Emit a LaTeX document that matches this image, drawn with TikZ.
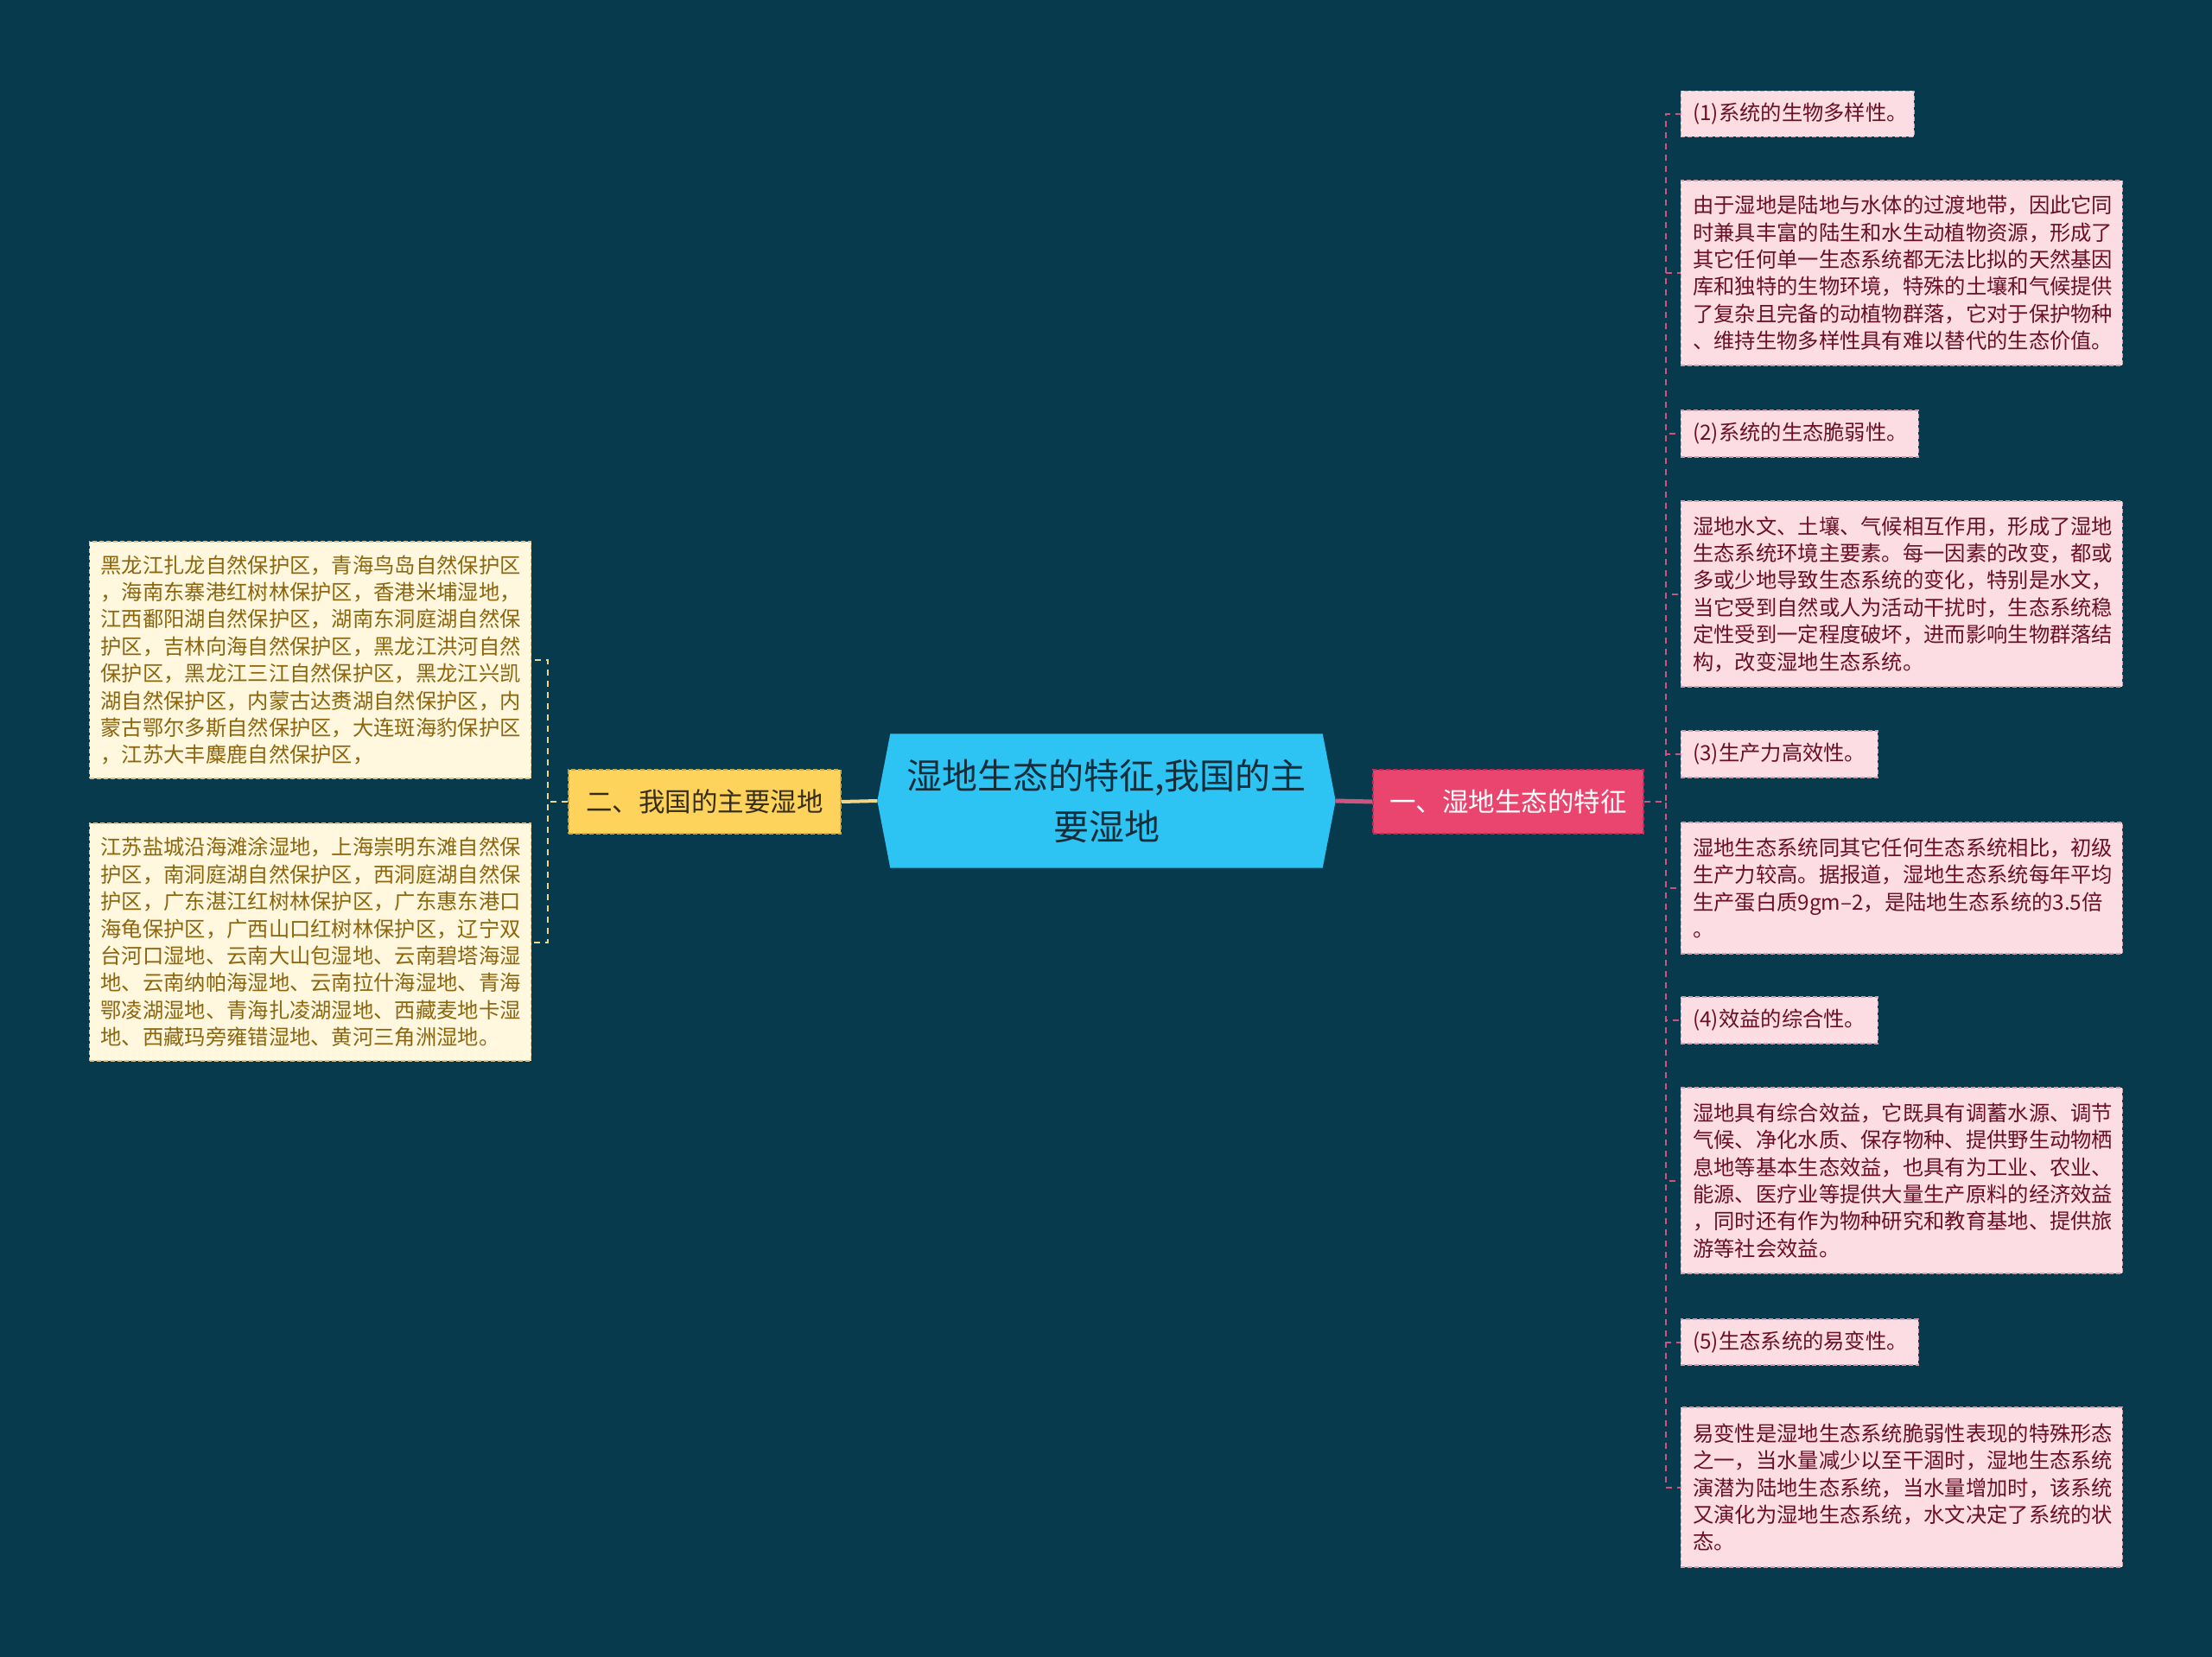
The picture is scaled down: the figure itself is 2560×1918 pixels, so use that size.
\documentclass[tikz,border=0pt]{standalone}
\usepackage{fontspec}
\setmainfont{Noto Sans CJK SC}
\usetikzlibrary{backgrounds}
\definecolor{bgc}{RGB}{8,58,78}
\definecolor{hexc}{RGB}{45,195,243}
\definecolor{hext}{RGB}{22,45,58}
\definecolor{pinkn}{RGB}{233,69,111}
\definecolor{pinkb}{RGB}{190,45,85}
\definecolor{yelln}{RGB}{253,211,92}
\definecolor{yellb}{RGB}{215,165,50}
\definecolor{yellt}{RGB}{55,45,25}
\definecolor{rfill}{RGB}{253,221,228}
\definecolor{rdraw}{RGB}{205,160,172}
\definecolor{rtext}{RGB}{105,15,38}
\definecolor{lfill}{RGB}{255,248,222}
\definecolor{ldraw}{RGB}{215,195,145}
\definecolor{ltext}{RGB}{140,102,15}
\definecolor{rline}{RGB}{205,85,125}
\definecolor{lline}{RGB}{238,212,140}
\begin{document}
\begin{tikzpicture}[x=1pt,y=-1pt,
  txt/.style={font=\fontsize{24.3}{31.4}\selectfont},
  rbox/.style={txt, anchor=west, fill=rfill, draw=rdraw, line width=1.2pt,
    dash pattern=on 5pt off 3pt, text=rtext, align=left, inner xsep=14pt, inner ysep=0pt},
  lbox/.style={txt, anchor=west, fill=lfill, draw=ldraw, line width=1.2pt,
    dash pattern=on 5pt off 3pt, text=ltext, align=left, inner xsep=13pt, inner ysep=0pt},
  rlink/.style={draw=rline, line width=2pt, dash pattern=on 7pt off 6pt},
  llink/.style={draw=lline, line width=2pt, dash pattern=on 7pt off 6pt}]
\useasboundingbox (0,0) rectangle (2560,1918);
\begin{scope}[on background layer]
  \fill[bgc] (0,0) rectangle (2560,1918);
\end{scope}

% central topic
\node (c) [minimum width=530pt, minimum height=155pt, inner sep=0pt, text=hext,
  align=center, text width=500pt, font=\fontsize{41}{59}\selectfont] at (1280.5,927)
  {湿地生态的特征,我国的主\\要湿地};
\begin{scope}[on background layer]
  \fill[hexc] (c.west) -- ([xshift=15pt]c.north west) -- ([xshift=-15pt]c.north east)
    -- (c.east) -- ([xshift=-15pt]c.south east) -- ([xshift=15pt]c.south west) -- cycle;
\end{scope}

% main branches
\node (p) [fill=pinkn, draw=pinkb, line width=1.2pt, dash pattern=on 5pt off 3pt,
  minimum width=313pt, minimum height=74pt, inner sep=0pt, text=white,
  font=\fontsize{30.5}{36}\selectfont] at (1745.5,928) {一、湿地生态的特征};
\node (y) [fill=yelln, draw=yellb, line width=1.2pt, dash pattern=on 5pt off 3pt,
  minimum width=315pt, minimum height=74pt, inner sep=0pt, text=yellt,
  font=\fontsize{30.5}{36}\selectfont] at (815.5,928) {二、我国的主要湿地};

% right children
\node (r1) [rbox, minimum width=270pt, minimum height=53pt, text width=242pt] at (1944.6,132) {(1)系统的生物多样性。};
\node (r2) [rbox, minimum width=511pt, minimum height=214pt, text width=483pt] at (1944.6,316)
  {由于湿地是陆地与水体的过渡地带，因此它同\\时兼具丰富的陆生和水生动植物资源，形成了\\其它任何单一生态系统都无法比拟的天然基因\\库和独特的生物环境，特殊的土壤和气候提供\\了复杂且完备的动植物群落，它对于保护物种\\、维持生物多样性具有难以替代的生态价值。};
\node (r3) [rbox, minimum width=275pt, minimum height=54pt, text width=247pt] at (1944.6,502) {(2)系统的生态脆弱性。};
\node (r4) [rbox, minimum width=511pt, minimum height=215pt, text width=483pt] at (1944.6,687.5)
  {湿地水文、土壤、气候相互作用，形成了湿地\\生态系统环境主要素。每一因素的改变，都或\\多或少地导致生态系统的变化，特别是水文，\\当它受到自然或人为活动干扰时，生态系统稳\\定性受到一定程度破坏，进而影响生物群落结\\构，改变湿地生态系统。};
\node (r5) [rbox, minimum width=228pt, minimum height=54pt, text width=200pt] at (1944.6,873) {(3)生产力高效性。};
\node (r6) [rbox, minimum width=511pt, minimum height=152pt, text width=483pt] at (1944.6,1028)
  {湿地生态系统同其它任何生态系统相比，初级\\生产力较高。据报道，湿地生态系统每年平均\\生产蛋白质9gm–2，是陆地生态系统的3.5倍\\。};
\node (r7) [rbox, minimum width=228pt, minimum height=54pt, text width=200pt] at (1944.6,1181) {(4)效益的综合性。};
\node (r8) [rbox, minimum width=511pt, minimum height=215pt, text width=483pt] at (1944.6,1366.5)
  {湿地具有综合效益，它既具有调蓄水源、调节\\气候、净化水质、保存物种、提供野生动物栖\\息地等基本生态效益，也具有为工业、农业、\\能源、医疗业等提供大量生产原料的经济效益\\，同时还有作为物种研究和教育基地、提供旅\\游等社会效益。};
\node (r9) [rbox, minimum width=275pt, minimum height=53pt, text width=247pt] at (1944.6,1553.5) {(5)生态系统的易变性。};
\node (r10) [rbox, minimum width=511pt, minimum height=185pt, text width=483pt] at (1944.6,1721.5)
  {易变性是湿地生态系统脆弱性表现的特殊形态\\之一，当水量减少以至干涸时，湿地生态系统\\演潜为陆地生态系统，当水量增加时，该系统\\又演化为湿地生态系统，水文决定了系统的状\\态。};

% left children
\node (la) [lbox, minimum width=511pt, minimum height=274pt, text width=485pt] at (103,764)
  {黑龙江扎龙自然保护区，青海鸟岛自然保护区\\，海南东寨港红树林保护区，香港米埔湿地，\\江西鄱阳湖自然保护区，湖南东洞庭湖自然保\\护区，吉林向海自然保护区，黑龙江洪河自然\\保护区，黑龙江三江自然保护区，黑龙江兴凯\\湖自然保护区，内蒙古达赉湖自然保护区，内\\蒙古鄂尔多斯自然保护区，大连斑海豹保护区\\，江苏大丰麋鹿自然保护区，};
\node (lb) [lbox, minimum width=511pt, minimum height=275pt, text width=485pt] at (103,1090.5)
  {江苏盐城沿海滩涂湿地，上海崇明东滩自然保\\护区，南洞庭湖自然保护区，西洞庭湖自然保\\护区，广东湛江红树林保护区，广东惠东港口\\海龟保护区，广西山口红树林保护区，辽宁双\\台河口湿地、云南大山包湿地、云南碧塔海湿\\地、云南纳帕海湿地、云南拉什海湿地、青海\\鄂凌湖湿地、青海扎凌湖湿地、西藏麦地卡湿\\地、西藏玛旁雍错湿地、黄河三角洲湿地。};

% connectors
\draw[draw=rline, line width=5pt] (c.east) -- (p.west);
\draw[draw=lline, line width=4pt] (c.west) -- (y.east);
\foreach \n in {r1,r2,r3,r4,r5,r6,r7,r8,r9,r10}
  \draw[rlink] (p.east) -- ++(25,0) |- (\n.west);
\foreach \n in {la,lb}
  \draw[llink] (y.west) -- ++(-23,0) |- (\n.east);
\end{tikzpicture}
\end{document}
